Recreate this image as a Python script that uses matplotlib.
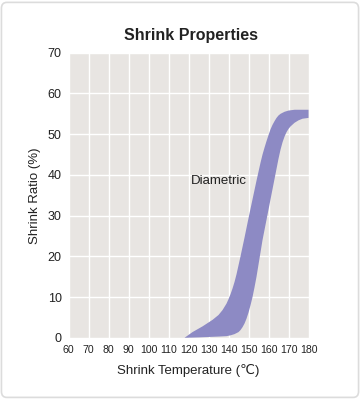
import matplotlib
matplotlib.use("Agg")
import matplotlib.pyplot as plt
from matplotlib.patches import FancyBboxPatch

# upper (left) edge of the band
upper_x = [118, 122, 127, 132, 135, 137, 139, 140, 141, 142, 143, 144, 145, 146, 147, 148, 150,
           152, 154, 155, 156, 157, 158, 159, 160, 161, 162, 163, 164, 165, 166, 168, 170, 173, 180]
upper_y = [0, 1.4, 2.8, 4.4, 5.6, 6.8, 8.4, 9.5, 10.7, 12.1, 13.7, 15.6, 17.8, 20.0, 22.3, 24.6, 29.4,
           34, 38.6, 40.8, 43, 45, 46.7, 48.3, 49.8, 51.2, 52.3, 53.2, 54, 54.6, 55, 55.5, 55.8, 56, 56]
# lower (right) edge of the band
lower_x = [118, 125, 130, 135, 139, 141, 143, 145, 146, 147, 148, 149, 150, 151, 152, 153, 154,
           155, 156, 157, 159, 161, 163, 165, 166, 167, 168, 169, 170, 171, 173, 175, 177, 180]
lower_y = [0, 0.1, 0.2, 0.3, 0.4, 0.6, 0.9, 1.4, 1.9, 2.6, 3.5, 4.7, 6.2, 8.0, 10.0, 12.4, 15,
           18, 21, 24, 29, 34, 39, 44, 46.2, 48, 49.4, 50.5, 51.3, 51.9, 52.8, 53.4, 53.8, 54]

x_ticks = list(range(60, 181, 10))
y_ticks = list(range(0, 71, 10))

plt.rcParams['font.family'] = ['Liberation Sans', 'DejaVu Sans']
TXT = "#222222"

fig = plt.figure(figsize=(3.6, 3.99), dpi=100)
border = FancyBboxPatch((0.004, 0.004), 0.992, 0.99, boxstyle="round,pad=0,rounding_size=0.015",
                        transform=fig.transFigure, facecolor="white", edgecolor="#dcdcdc",
                        linewidth=1.2, zorder=-10)
fig.patches.append(border)

ax = fig.add_axes([0.1903, 0.1534, 0.6667, 0.7144])
ax.set_facecolor("#e8e5e2")
ax.set_xlim(60, 180)
ax.set_ylim(0, 70)
ax.set_xticks(x_ticks)
ax.set_yticks(y_ticks)
ax.grid(True, color="white", linewidth=1.0)
ax.set_axisbelow(True)
for s in ax.spines.values():
    s.set_visible(False)
ax.tick_params(axis="y", length=0, pad=5, labelsize=9, colors=TXT)
ax.tick_params(axis="x", length=0, pad=5, labelsize=7.6, colors=TXT)

# closed polygon of the band: upper edge forward, lower edge back
poly_x = upper_x + lower_x[::-1]
poly_y = upper_y + lower_y[::-1]
ax.fill(poly_x, poly_y, color="#8d8ac4", linewidth=0)

ax.text(121, 38.4, "Diametric", fontsize=9.5, color=TXT, ha="left", va="center")

ax.set_xlabel("Shrink Temperature (\u2103)", fontsize=9.5, color=TXT, labelpad=7)
ax.set_ylabel("Shrink Ratio (%)", fontsize=9.5, color=TXT, labelpad=5)
fig.text(0.53, 0.912, "Shrink Properties", ha="center", va="center", fontsize=11.5,
         fontweight="bold", color=TXT)

fig.savefig("out.png", dpi=100)
